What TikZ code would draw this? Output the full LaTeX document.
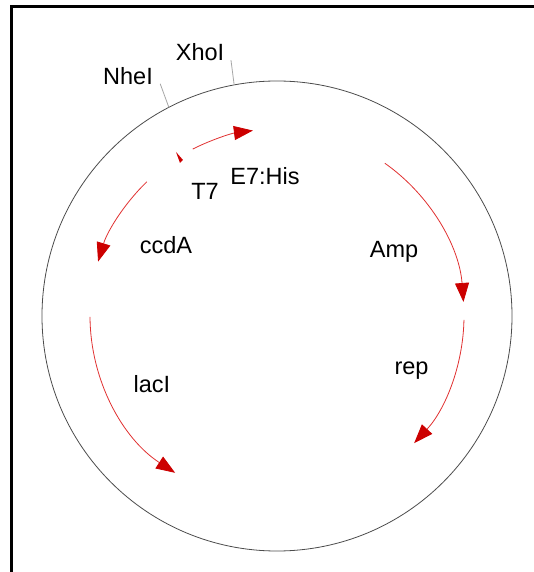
\documentclass[tikz,border=0pt]{standalone}
\usepackage{fontspec}
\setmainfont{Liberation Sans}
\usetikzlibrary{arrows.meta}
\definecolor{headred}{HTML}{CC0000}
\definecolor{linered}{HTML}{E03030}
\tikzset{
  lbl/.style={anchor=base, inner sep=0pt, font=\fontsize{23.5}{26}\selectfont},
  genearrow/.style={draw=linered, line width=0.8pt,
    -{Triangle[length=19pt,width=14pt,fill=headred,color=headred]}},
  tick/.style={draw=gray!70, line width=0.8pt},
  frameline/.style={draw=black, line width=3pt}
}
\begin{document}
\begin{tikzpicture}[x=1pt,y=1pt]
\useasboundingbox (-277,-256) rectangle (257,316);
% frame
\coordinate (ftl) at (-265.5,309.5);
\coordinate (ftr) at (257,309.5);
\coordinate (fbl) at (-265.5,-256);
\draw[frameline] (ftr) -- (ftl) -- (fbl);
% plasmid circle
\coordinate (c) at (0,0);
\draw[draw=gray!60!black, line width=0.8pt] (c) circle[radius=235];
% restriction sites
\draw[tick] (117.4:235) -- (116.7:260);
\draw[tick] (100.5:235) -- (100.2:260);
\node[lbl] (nhei) at (-149,231) {NheI};
\node[lbl] (xhoi) at (-77,255) {XhoI};
% gene arrows
\draw[genearrow] (116.8:187) arc[start angle=116.8, end angle=97.4, radius=187];
\draw[genearrow] (134.1:187) arc[start angle=134.1, end angle=163.1, radius=187];
\draw[genearrow] (54.8:187) arc[start angle=54.8, end angle=4.3, radius=187];
\draw[genearrow] (-1.2:187) arc[start angle=-1.2, end angle=-42.8, radius=187];
\draw[genearrow] (180.3:187) arc[start angle=180.3, end angle=237, radius=187];
% T7 promoter sliver
\fill[headred] (-101,164) -- (-94,156) -- (-97,153) -- cycle;
% labels
\node[lbl] (t7) at (-72,116) {T7};
\node[lbl] (e7) at (-12,131) {E7:His};
\node[lbl] (ccda) at (-111,62) {ccdA};
\node[lbl] (amp) at (117,58) {Amp};
\node[lbl] (rep) at (134.5,-59) {rep};
\node[lbl] (laci) at (-125,-77) {lacI};
\end{tikzpicture}
\end{document}
